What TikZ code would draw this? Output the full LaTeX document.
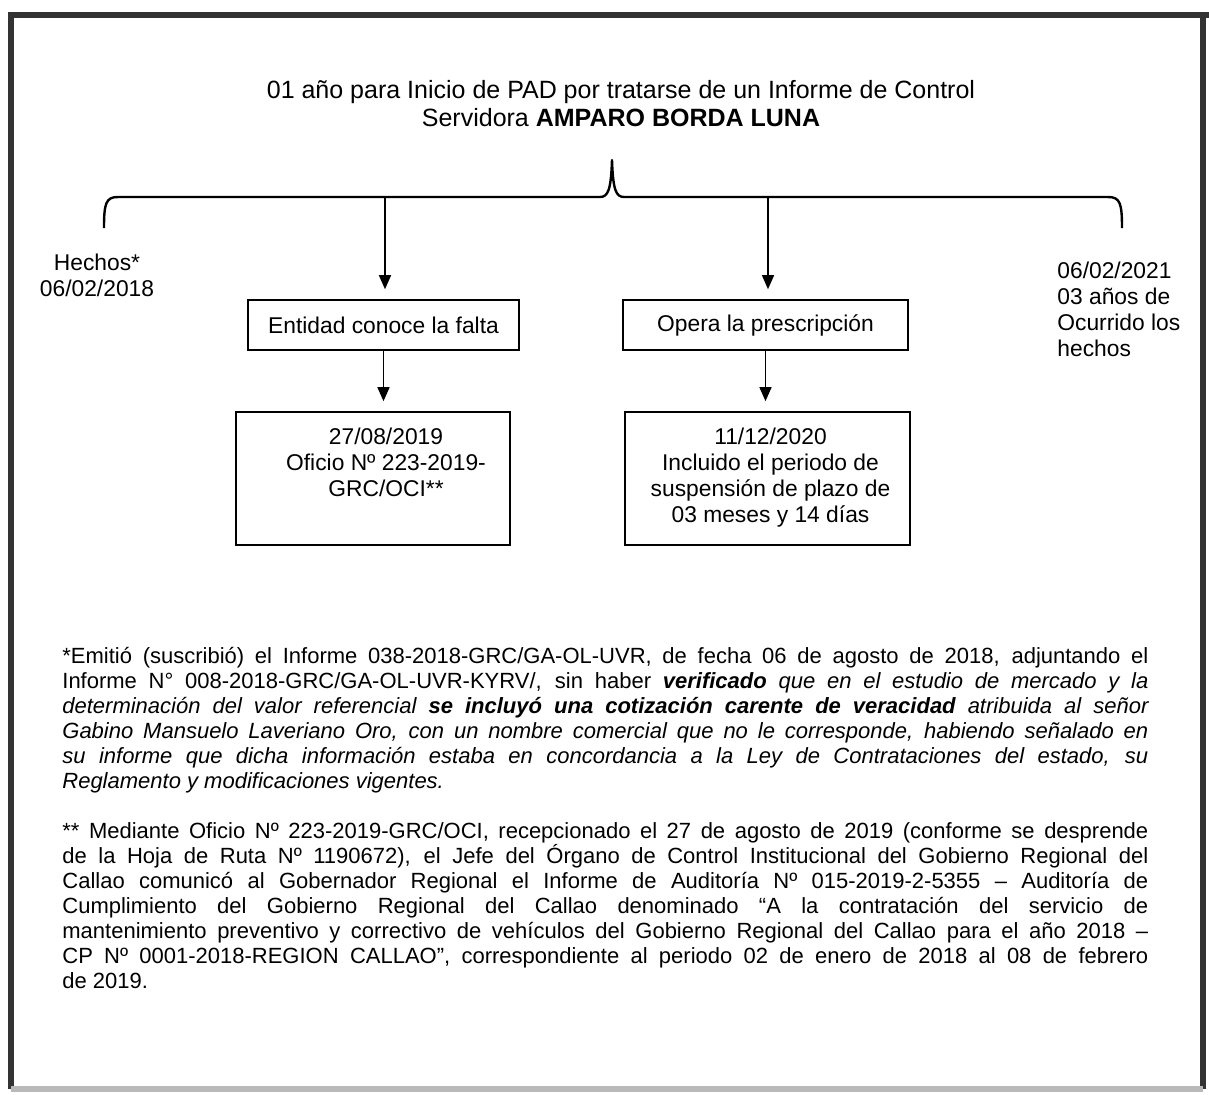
\documentclass[tikz,border=0pt]{standalone}
\usepackage{fontspec}
\setmainfont{Liberation Sans}
\usepackage{tikz}
\usetikzlibrary{positioning,arrows.meta}

\newcommand\padfont{\fontsize{11.4pt}{13pt}\selectfont}
\newcommand\padtitlefont{\fontsize{12.5pt}{14pt}\selectfont}
\newcommand\padnotefont{\fontsize{11pt}{12.5pt}\selectfont\hyphenpenalty=10000 \exhyphenpenalty=10000 }

\tikzset{
    padframe/.style={draw=black!80, line width=3pt},
    padbrace/.style={draw, line width=1.2pt, line join=round},
    padbox/.style={draw, line width=0.8pt, inner sep=0pt, align=center, font=\padfont},
    paddate/.style={draw, line width=0.8pt, inner sep=0pt, minimum height=66.5pt},
    padtext/.style={inner sep=0pt, align=center, font=\padfont},
    padarrow/.style={draw, line width=0.7pt, -{Triangle[length=7pt,width=6pt]}, shorten >=5pt},
    padnote/.style={inner sep=0pt, anchor=north west, text width=543pt, align=justify, font=\padnotefont}
}

\begin{document}
\begin{tikzpicture}[x=0.5pt, y=-0.5pt]
    \useasboundingbox (0,0) rectangle (1209,1094);
    % marco de la hoja
    \draw[padframe] (11,1089) -- (11,15) -- (1209,15);
    \draw[padframe] (1203,15) -- (1203,1089);
    \draw[padframe, draw=gray!55] (11,1089) -- (1203,1089);

    \node[padtext, font=\padtitlefont] (titulo) at (621,104)
        {01 año para Inicio de PAD por tratarse de un Informe de Control\\Servidora \textbf{AMPARO BORDA LUNA}};

    % llave
    \draw[padbrace] (104,228) .. controls (104,203) and (106,197) .. (118,197) -- (600,197)
        .. controls (608,197) and (611,190) .. (612,160)
        .. controls (613,190) and (616,197) .. (624,197) -- (1108,197)
        .. controls (1120,197) and (1122,203) .. (1122,228);
    \coordinate (llaveA) at (385,197);
    \coordinate (llaveB) at (768,197);

    \node[padtext] (hechos) at (97,275) {Hechos*\\06/02/2018};
    \node[padtext, align=left, anchor=west] (plazo) at (1057,309) {06/02/2021\\03 años de\\Ocurrido los\\hechos};

    \node[padbox, minimum width=135.5pt, minimum height=25pt] (conoce) at (383.5,325) {Entidad conoce la falta};
    \node[padbox, minimum width=142.5pt, minimum height=25pt] (opera) at (765.5,325) {Opera la prescripción};

    \node[paddate, minimum width=137pt] (fechaA) at (373,478.5) {};
    \node[paddate, minimum width=142.5pt] (fechaB) at (767.5,478.5) {};
    \node[padtext, anchor=north, below=8pt of fechaA.north, xshift=6.5pt] (oficio)
        {27/08/2019\\Oficio Nº 223-2019-\\GRC/OCI**};
    \node[padtext, anchor=north, below=8pt of fechaB.north, xshift=1.5pt] (suspension)
        {11/12/2020\\Incluido el periodo de\\suspensión de plazo de\\03 meses y 14 días};

    \draw[padarrow] (llaveA) -- (llaveA |- conoce.north);
    \draw[padarrow] (llaveB) -- (llaveB |- opera.north);
    \draw[padarrow] (conoce.south) -- (conoce.south |- fechaA.north);
    \draw[padarrow] (opera.south) -- (opera.south |- fechaB.north);

    % notas al pie
    \node[padnote] (nota1) at (62,647)
        {*Emitió (suscribió) el Informe 038-2018-GRC/GA-OL-UVR, de fecha 06 de agosto de 2018, adjuntando el\linebreak
        Informe N° 008-2018-GRC/GA-OL-UVR-KYRV/, sin haber \textbf{\textit{verificado}} \textit{que en el estudio de mercado y la\linebreak
        determinación del valor referencial \textbf{se incluyó una cotización carente de veracidad} atribuida al señor\linebreak
        Gabino Mansuelo Laveriano Oro, con un nombre comercial que no le corresponde, habiendo señalado en\linebreak
        su informe que dicha información estaba en concordancia a la Ley de Contrataciones del estado, su\linebreak
        Reglamento y modificaciones vigentes.}};
    \node[padnote] (nota2) at (62,822)
        {** Mediante Oficio Nº 223-2019-GRC/OCI, recepcionado el 27 de agosto de 2019 (conforme se desprende\linebreak
        de la Hoja de Ruta Nº 1190672), el Jefe del Órgano de Control Institucional del Gobierno Regional del\linebreak
        Callao comunicó al Gobernador Regional el Informe de Auditoría Nº 015-2019-2-5355 – Auditoría de\linebreak
        Cumplimiento del Gobierno Regional del Callao denominado “A la contratación del servicio de\linebreak
        mantenimiento preventivo y correctivo de vehículos del Gobierno Regional del Callao para el año 2018 –\linebreak
        CP Nº 0001-2018-REGION CALLAO”, correspondiente al periodo 02 de enero de 2018 al 08 de febrero\linebreak
        de 2019.};
\end{tikzpicture}
\end{document}
